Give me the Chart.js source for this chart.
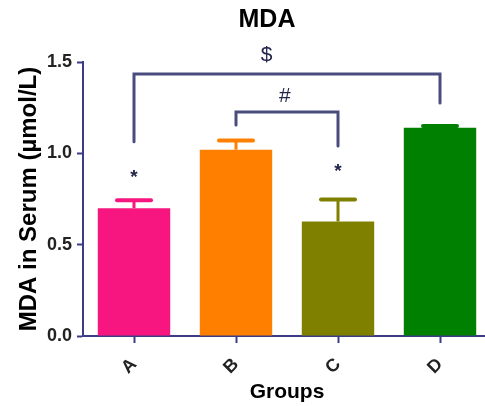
<!DOCTYPE html>
<html><head><meta charset="utf-8">
<script src="https://cdn.jsdelivr.net/npm/chart.js@4"></script>
<style>html,body{margin:0;padding:0;background:#fff;overflow:hidden;width:485px;height:406px}#wrap{width:491px;height:406px;position:relative}</style>
</head><body><div id="wrap"><canvas id="c" width="491" height="406"></canvas></div>
<script>
const categories = ['A', 'B', 'C', 'D'];
const means = [0.70, 1.02, 0.627, 1.14];
const errors = [0.043, 0.05, 0.12, 0.01];
const barColors = ['#f7157f', '#ff8000', '#808000', '#008000'];
const yTicks = [0, 0.5, 1.0, 1.5];
const starGroups = [0, 2];
const starValues = [0.89, 0.92];
const bracketLabels = ['$', '#'];
const bracketFrom = [0, 1];
const bracketTo = [3, 2];
const bracketTop = [1.434, 1.226];
const bracketLeftEnd = [1.063, 1.155];
const bracketRightEnd = [1.275, 1.04];
const bracketLabelX = [1.30, 1.48];
const bracketLabelY = [1.535, 1.315];

const AXIS = '#3a3d85';
const BRK = '#4a4c7e';
const FONT = '"Liberation Sans", Arial, sans-serif';

const overlay = {
  id: 'overlay',
  afterDatasetsDraw(chart) {
    const ctx = chart.ctx, x = chart.scales.x, y = chart.scales.y;
    ctx.save();
    means.forEach((m, i) => {
      const cx = x.getPixelForValue(i);
      const yt = y.getPixelForValue(m + errors[i]);
      const yb = y.getPixelForValue(m);
      ctx.strokeStyle = barColors[i];
      ctx.lineCap = 'butt';
      ctx.lineWidth = 3;
      ctx.beginPath(); ctx.moveTo(cx, yb); ctx.lineTo(cx, yt); ctx.stroke();
      ctx.lineCap = 'round';
      ctx.lineWidth = 4;
      ctx.beginPath(); ctx.moveTo(cx - 17, yt); ctx.lineTo(cx + 17, yt); ctx.stroke();
    });
    ctx.strokeStyle = BRK; ctx.lineWidth = 3; ctx.lineCap = 'round'; ctx.lineJoin = 'miter';
    bracketLabels.forEach((lab, i) => {
      const x1 = x.getPixelForValue(bracketFrom[i]), x2 = x.getPixelForValue(bracketTo[i]);
      const yt = y.getPixelForValue(bracketTop[i]);
      ctx.beginPath();
      ctx.moveTo(x1, y.getPixelForValue(bracketLeftEnd[i]));
      ctx.lineTo(x1, yt); ctx.lineTo(x2, yt);
      ctx.lineTo(x2, y.getPixelForValue(bracketRightEnd[i]));
      ctx.stroke();
      ctx.fillStyle = '#23254a';
      ctx.font = '21px ' + FONT;
      ctx.textAlign = 'center'; ctx.textBaseline = 'middle';
      ctx.fillText(lab, x.getPixelForValue(bracketLabelX[i]), y.getPixelForValue(bracketLabelY[i]));
    });
    ctx.fillStyle = '#23254a';
    ctx.font = 'bold 19px ' + FONT;
    starGroups.forEach((g, i) => {
      ctx.fillText('*', x.getPixelForValue(g), y.getPixelForValue(starValues[i]) + 4);
    });
    ctx.fillStyle = '#000';
    ctx.font = 'bold 25px ' + FONT;
    ctx.fillText('MDA', 267, 20);
    ctx.restore();
  }
};

new Chart(document.getElementById('c'), {
  type: 'bar',
  data: {
    labels: categories,
    datasets: [{
      data: means,
      backgroundColor: barColors,
      borderWidth: 0,
      barPercentage: 0.71,
      categoryPercentage: 1.0
    }]
  },
  options: {
    responsive: false,
    animation: false,
    devicePixelRatio: 1,
    layout: { padding: { top: 62, right: 0, left: 0, bottom: 0 } },
    plugins: { legend: { display: false }, tooltip: { enabled: false }, title: { display: false } },
    scales: {
      x: {
        offset: true,
        border: { color: AXIS, width: 2 },
        grid: { display: true, drawOnChartArea: false, drawTicks: true, tickLength: 7, tickWidth: 2, tickColor: AXIS, offset: false },
        ticks: { color: '#222', font: { family: FONT, size: 18, weight: 'bold' }, minRotation: 45, maxRotation: 45, padding: 11 },
        title: { display: true, text: 'Groups', color: '#000', font: { family: FONT, size: 21, weight: 'bold' }, padding: { top: 0, bottom: 1 } },
        afterFit(s) { s.height = 70; }
      },
      y: {
        min: 0, max: 1.5,
        border: { color: AXIS, width: 2 },
        grid: { display: true, drawOnChartArea: false, drawTicks: true, tickLength: 6, tickWidth: 2, tickColor: AXIS },
        afterBuildTicks(s) { s.ticks = yTicks.map(v => ({ value: v })); },
        ticks: { color: '#222', font: { family: FONT, size: 18, weight: 'bold' }, padding: 5, callback: v => Number(v).toFixed(1) },
        title: { display: true, text: 'MDA in Serum (µmol/L)', color: '#000', font: { family: FONT, size: 24, weight: 'bold' }, padding: { top: 15, bottom: 0 } },
        afterFit(s) { s.width = 83; }
      }
    }
  },
  plugins: [overlay]
});
</script></body></html>
